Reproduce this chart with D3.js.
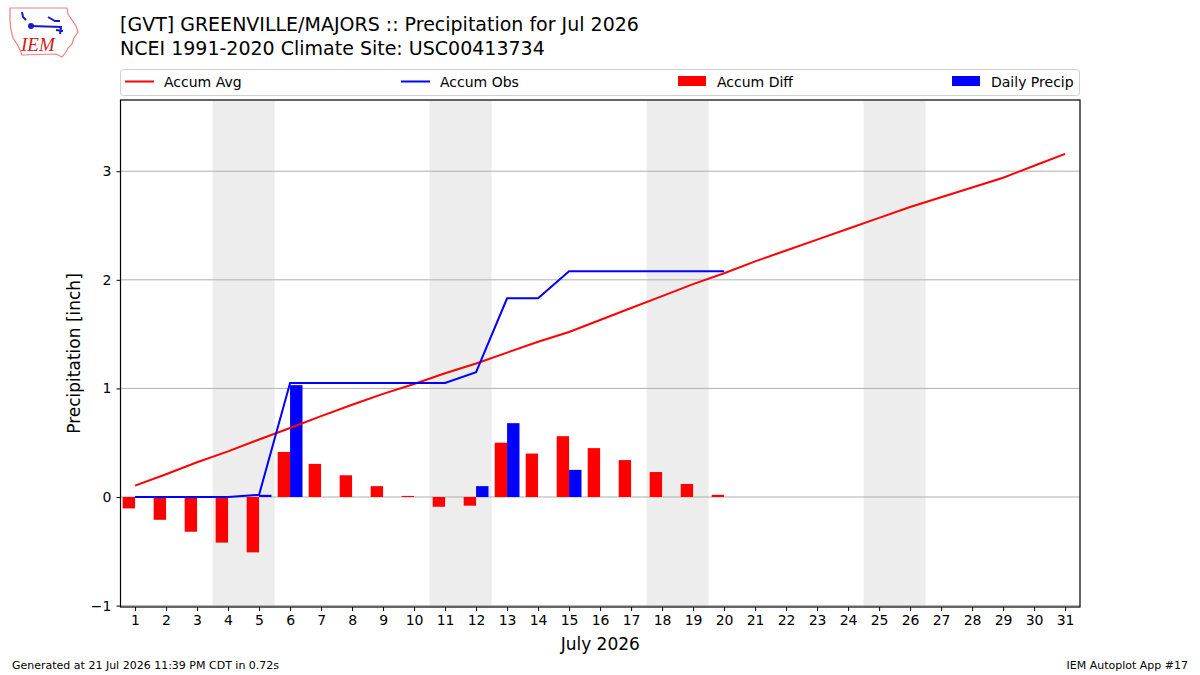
<!DOCTYPE html>
<html>
<head>
<meta charset="utf-8">
<script src="https://cdn.jsdelivr.net/npm/d3@7"></script>
<style>
  body { margin: 0; background: #fff; }
  text { font-family: "DejaVu Sans", sans-serif; fill: #000; }
</style>
</head>
<body>
<div id="chart"></div>
<script>
// daily values
var days = d3.range(1, 32);
var accumAvg = [0.105, 0.21, 0.32, 0.42, 0.53, 0.635, 0.745, 0.85, 0.95, 1.04,
  1.14, 1.23, 1.33, 1.43, 1.52, 1.63, 1.74, 1.85, 1.96, 2.06,
  2.17, 2.27, 2.37, 2.47, 2.57, 2.67, 2.76, 2.85, 2.94, 3.05, 3.16];
var dailyPrecip = [0, 0, 0, 0, 0.02, 1.03, 0, 0, 0, 0,
  0, 0.10, 0.68, 0, 0.25, 0, 0, 0, 0, 0];
var accumObs = [0, 0, 0, 0, 0.02, 1.05, 1.05, 1.05, 1.05, 1.05,
  1.05, 1.15, 1.83, 1.83, 2.08, 2.08, 2.08, 2.08, 2.08, 2.08];
var weekends = [[4, 5], [11, 12], [18, 19], [25, 26]];
var yTicks = [-1, 0, 1, 2, 3];

var W = 1200, H = 675;
var margin = { top: 100, right: 120, bottom: 68, left: 120.5 };

var svg = d3.select("#chart").append("svg")
  .attr("width", W).attr("height", H);

var x = d3.scaleLinear().domain([0.53, 31.48]).range([margin.left, W - margin.right]);
var y = d3.scaleLinear().domain([-1.013, 3.656]).range([H - margin.bottom, margin.top]);
var dayW = x(1) - x(0);

// weekend shading
svg.selectAll(".wk").data(weekends).enter().append("rect")
  .attr("x", d => x(d[0] - 0.5))
  .attr("width", d => x(d[1] + 0.5) - x(d[0] - 0.5))
  .attr("y", y.range()[1])
  .attr("height", y.range()[0] - y.range()[1])
  .attr("fill", "#ededed");

// horizontal grid
svg.selectAll(".grid").data(yTicks).enter().append("line")
  .attr("x1", x.range()[0]).attr("x2", x.range()[1])
  .attr("y1", d => y(d)).attr("y2", d => y(d))
  .attr("stroke", "#b0b0b0").attr("stroke-width", 1);

// accum diff bars (left of the day)
var obsDays = days.slice(0, accumObs.length);
var diffs = obsDays.map((d, i) => ({ day: d, v: accumObs[i] - accumAvg[i] }));
svg.selectAll(".diff").data(diffs).enter().append("rect")
  .attr("x", d => x(d.day - 0.4))
  .attr("width", dayW * 0.4)
  .attr("y", d => y(Math.max(0, d.v)))
  .attr("height", d => Math.abs(y(d.v) - y(0)))
  .attr("fill", "#ff0000");

// daily precip bars (right of the day)
svg.selectAll(".daily").data(dailyPrecip.map((v, i) => ({ day: i + 1, v: v }))).enter().append("rect")
  .attr("x", d => x(d.day))
  .attr("width", dayW * 0.4)
  .attr("y", d => y(d.v))
  .attr("height", d => y(0) - y(d.v))
  .attr("fill", "#0000ff");

var line = d3.line().x(d => x(d[0])).y(d => y(d[1]));
svg.append("path")
  .attr("d", line(days.map((d, i) => [d, accumAvg[i]])))
  .attr("fill", "none").attr("stroke", "#ff0000").attr("stroke-width", 2);
svg.append("path")
  .attr("d", line(obsDays.map((d, i) => [d, accumObs[i]])))
  .attr("fill", "none").attr("stroke", "#0000ff").attr("stroke-width", 2);

// frame
svg.append("rect")
  .attr("x", x.range()[0]).attr("y", y.range()[1])
  .attr("width", x.range()[1] - x.range()[0])
  .attr("height", y.range()[0] - y.range()[1])
  .attr("fill", "none").attr("stroke", "#000").attr("stroke-width", 1.2);

// axes
var xAxis = svg.append("g")
  .attr("transform", "translate(0," + y.range()[0] + ")")
  .call(d3.axisBottom(x).tickValues(days).tickSize(4).tickPadding(4).tickFormat(d3.format("d")));
var yAxis = svg.append("g")
  .attr("transform", "translate(" + x.range()[0] + ",0)")
  .call(d3.axisLeft(y).tickValues(yTicks).tickSize(4).tickPadding(5)
    .tickFormat(d => d < 0 ? "\u2212" + Math.abs(d) : d));
[xAxis, yAxis].forEach(function (g) {
  g.select(".domain").remove();
  g.selectAll("text").style("font-size", "14px").style("font-family", "DejaVu Sans");
  g.selectAll("line").attr("stroke", "#000");
});

svg.append("text")
  .attr("x", (x.range()[0] + x.range()[1]) / 2).attr("y", 650)
  .attr("text-anchor", "middle").style("font-size", "17px")
  .text("July 2026");
svg.append("text")
  .attr("transform", "translate(80," + (y.range()[0] + y.range()[1]) / 2 + ") rotate(-90)")
  .attr("text-anchor", "middle").style("font-size", "17px")
  .text("Precipitation [inch]");

// titles
svg.append("text").attr("x", 120).attr("y", 31).style("font-size", "19px")
  .text("[GVT] GREENVILLE/MAJORS :: Precipitation for Jul 2026");
svg.append("text").attr("x", 120).attr("y", 55).style("font-size", "19px")
  .text("NCEI 1991-2020 Climate Site: USC00413734");

// legend
var legend = svg.append("g");
legend.append("rect")
  .attr("x", 120.5).attr("y", 69.5).attr("width", 959).attr("height", 26)
  .attr("rx", 3).attr("fill", "#fff").attr("stroke", "#d0d0d0");
var legendItems = [
  { name: "Accum Avg", color: "#ff0000", type: "line", x: 125 },
  { name: "Accum Obs", color: "#0000ff", type: "line", x: 401 },
  { name: "Accum Diff", color: "#ff0000", type: "rect", x: 678 },
  { name: "Daily Precip", color: "#0000ff", type: "rect", x: 952 }
];
legendItems.forEach(function (d) {
  if (d.type === "line") {
    legend.append("line").attr("x1", d.x).attr("x2", d.x + 29)
      .attr("y1", 81.5).attr("y2", 81.5)
      .attr("stroke", d.color).attr("stroke-width", 2);
  } else {
    legend.append("rect").attr("x", d.x).attr("y", 76).attr("width", 28).attr("height", 10)
      .attr("fill", d.color);
  }
  legend.append("text").attr("x", d.x + 39).attr("y", 86.5)
    .style("font-size", "14px").text(d.name);
});

// footer
svg.append("text").attr("x", 12).attr("y", 669).style("font-size", "11px")
  .text("Generated at 21 Jul 2026 11:39 PM CDT in 0.72s");
svg.append("text").attr("x", 1188).attr("y", 669).attr("text-anchor", "end").style("font-size", "11px")
  .text("IEM Autoplot App #17");

// IEM logo (rough)
var logo = svg.append("g");
logo.append("path")
  .attr("d", "M10,8 L67,8 L68,14 L72,20 L76,26 L78,32 L74,38 L72,44 L68,48 L66,52 L62,57 L56,54 L22,55 L20,50 L17,44 L13,38 L11,30 L10,20 Z")
  .attr("fill", "#fff").attr("stroke", "#f08080").attr("stroke-width", 1.2);
logo.append("path")
  .attr("d", "M22,12 L23,17 L26,20 M31,26 L61,27 L60,34 M48,17 L55,21 L60,21 M56,30 L63,31")
  .attr("fill", "none").attr("stroke", "#1a1acc").attr("stroke-width", 2);
logo.append("circle").attr("cx", 31).attr("cy", 26).attr("r", 3).attr("fill", "#1a1acc");
logo.append("text").attr("x", 21).attr("y", 51)
  .style("font-family", "Liberation Serif, serif").style("font-style", "italic")
  .style("font-size", "19px").style("fill", "#d02020").text("IEM");
</script>
</body>
</html>
